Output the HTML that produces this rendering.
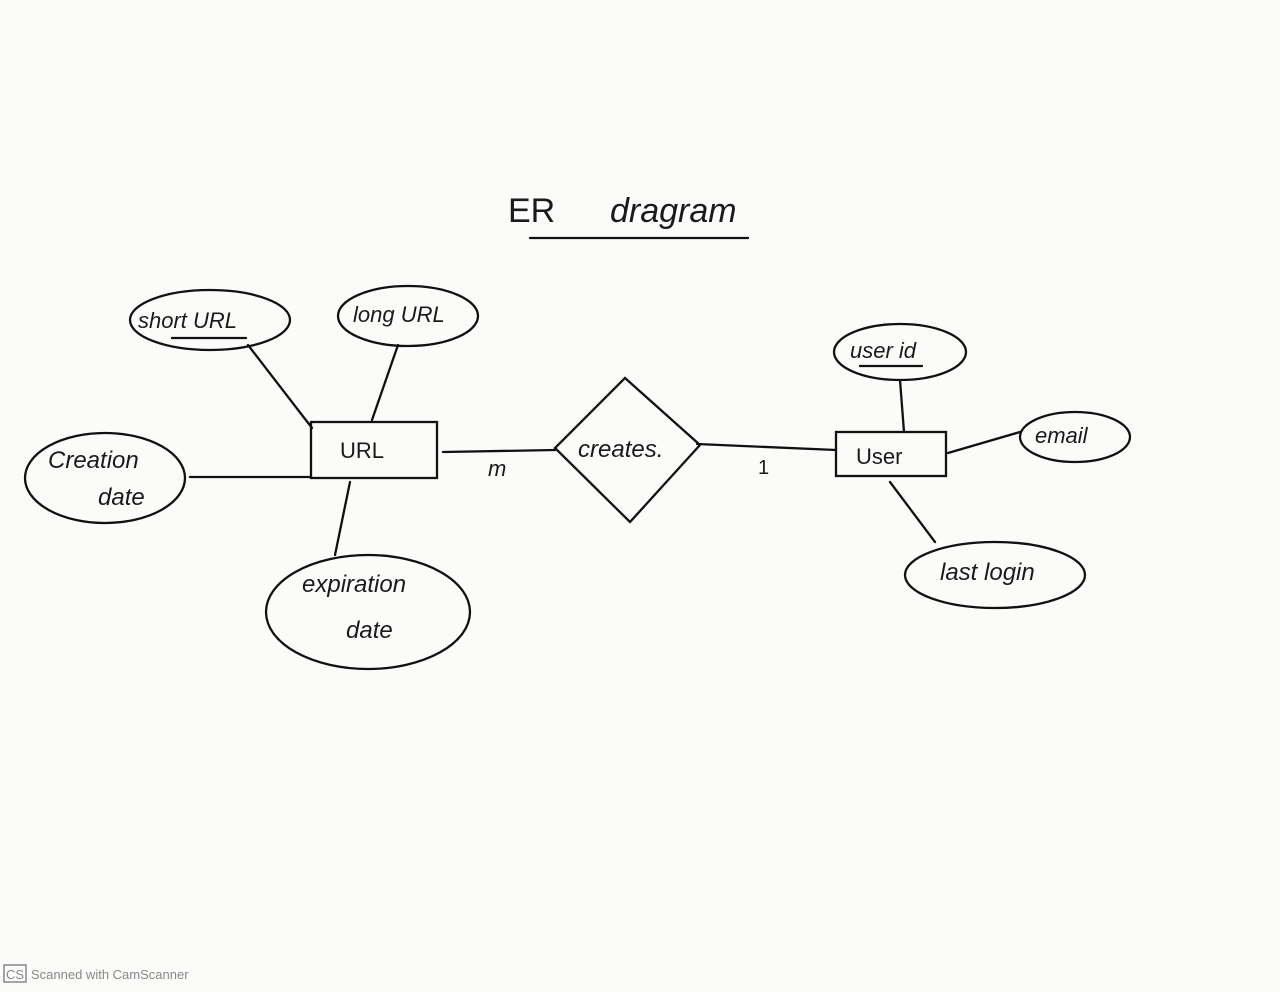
<!DOCTYPE html>
<html><head><meta charset="utf-8"><style>
html,body{margin:0;padding:0;background:#fbfbfa;}
svg{display:block}
text{font-family:"Liberation Sans",sans-serif;fill:#1a1a1a}
</style></head><body>
<svg width="1280" height="992" viewBox="0 0 1280 992" xmlns="http://www.w3.org/2000/svg">
<rect width="1280" height="992" fill="#fbfbfa"/>
<g stroke="#111" stroke-width="2.3" fill="none" stroke-linecap="round">
<line x1="530" y1="238" x2="748" y2="238"/>
<ellipse cx="210" cy="320" rx="80" ry="30"/>
<line x1="172" y1="338" x2="246" y2="338"/>
<ellipse cx="408" cy="316" rx="70" ry="30"/>
<ellipse cx="105" cy="478" rx="80" ry="45"/>
<rect x="311" y="422" width="126" height="56"/>
<ellipse cx="368" cy="612" rx="102" ry="57"/>
<polygon points="625,378 700,445 630,522 555,448"/>
<rect x="836" y="432" width="110" height="44"/>
<ellipse cx="900" cy="352" rx="66" ry="28"/>
<line x1="860" y1="366" x2="922" y2="366"/>
<ellipse cx="1075" cy="437" rx="55" ry="25"/>
<ellipse cx="995" cy="575" rx="90" ry="33"/>
<line x1="248" y1="345" x2="312" y2="428"/>
<line x1="398" y1="345" x2="372" y2="420"/>
<line x1="190" y1="477" x2="311" y2="477"/>
<line x1="350" y1="482" x2="335" y2="555"/>
<line x1="443" y1="452" x2="555" y2="450"/>
<line x1="697" y1="444" x2="836" y2="450"/>
<line x1="900" y1="380" x2="904" y2="432"/>
<line x1="948" y1="453" x2="1020" y2="432"/>
<line x1="890" y1="482" x2="935" y2="542"/>
</g>
<text x="508" y="222" font-size="34">ER</text>
<text x="610" y="222" font-size="34" font-style="italic">dragram</text>
<text x="138" y="328" font-size="22" font-style="italic">short URL</text>
<text x="353" y="322" font-size="22" font-style="italic">long URL</text>
<text x="48" y="468" font-size="24" font-style="italic">Creation</text>
<text x="98" y="505" font-size="24" font-style="italic">date</text>
<text x="340" y="458" font-size="22">URL</text>
<text x="578" y="457" font-size="24" font-style="italic">creates.</text>
<text x="856" y="464" font-size="22">User</text>
<text x="850" y="358" font-size="22" font-style="italic">user id</text>
<text x="1035" y="443" font-size="22" font-style="italic">email</text>
<text x="940" y="580" font-size="24" font-style="italic">last login</text>
<text x="302" y="592" font-size="24" font-style="italic">expiration</text>
<text x="346" y="638" font-size="24" font-style="italic">date</text>
<text x="488" y="476" font-size="22" font-style="italic">m</text>
<text x="758" y="474" font-size="20">1</text>
<rect x="4" y="965" width="22" height="17" fill="none" stroke="#888" stroke-width="1.5"/>
<text x="6" y="979" font-size="13" style="fill:#888">CS</text>
<text x="31" y="979" font-size="13" style="fill:#888">Scanned with CamScanner</text>
</svg>
</body></html>
